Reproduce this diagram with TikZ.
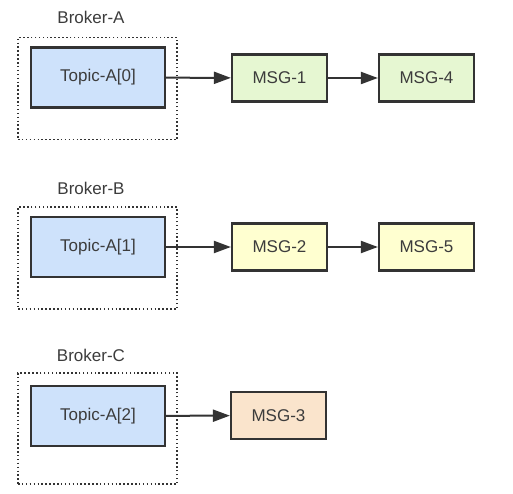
\documentclass[tikz,border=0pt]{standalone}
\usepackage{fontspec}
\setmainfont{Liberation Sans}
\usetikzlibrary{arrows.meta}

\definecolor{topicblue}{HTML}{CEE2FB}
\definecolor{msggreen}{HTML}{E6F7D2}
\definecolor{msgyellow}{HTML}{FFFFD0}
\definecolor{msgorange}{HTML}{FAE4CC}
\definecolor{linegray}{HTML}{333333}
\definecolor{textgray}{HTML}{3C3C3C}

\tikzset{
  broker/.style={draw=linegray, line width=1.8pt, dash pattern=on 1.5pt off 2.4pt, minimum width=159pt},
  topic/.style={draw=linegray, line width=2.2pt, fill=topicblue, minimum width=134pt, minimum height=60pt, text=textgray},
  msg/.style={draw=linegray, line width=2.2pt, minimum width=95pt, minimum height=47pt, text=textgray},
  lbl/.style={text=textgray},
  link/.style={draw=linegray, line width=2pt, -{Triangle[length=17pt,width=12pt]}}
}

\begin{document}
\begin{tikzpicture}[x=1pt, y=-1pt, font=\fontsize{17}{20}\selectfont]
    \useasboundingbox (0,0) rectangle (513,494);

    % Broker-A
    \node[lbl] (labelA) at (91,17) {Broker-A};
    \node[broker, minimum height=102pt] (brokerA) at (97.5,88.5) {};
    \node[topic] (topicA0) at (98,77.5) {Topic-A[0]};
    \node[msg, fill=msggreen] (msg1) at (279.5,78) {MSG-1};
    \node[msg, fill=msggreen] (msg4) at (426.5,78) {MSG-4};
    \draw[link] (topicA0) -- (msg1);
    \draw[link] (msg1) -- (msg4);

    % Broker-B
    \node[lbl] (labelB) at (91,188) {Broker-B};
    \node[broker, minimum height=102pt] (brokerB) at (97.5,258) {};
    \node[topic] (topicA1) at (98,247) {Topic-A[1]};
    \node[msg, fill=msgyellow] (msg2) at (279.5,247) {MSG-2};
    \node[msg, fill=msgyellow] (msg5) at (426.5,247) {MSG-5};
    \draw[link] (topicA1) -- (msg2);
    \draw[link] (msg2) -- (msg5);

    % Broker-C
    \node[lbl] (labelC) at (91,355) {Broker-C};
    \node[broker, minimum height=111pt] (brokerC) at (97.5,428.5) {};
    \node[topic] (topicA2) at (98,416) {Topic-A[2]};
    \node[msg, fill=msgorange] (msg3) at (278.5,415.5) {MSG-3};
    \draw[link] (topicA2) -- (msg3);
\end{tikzpicture}
\end{document}
